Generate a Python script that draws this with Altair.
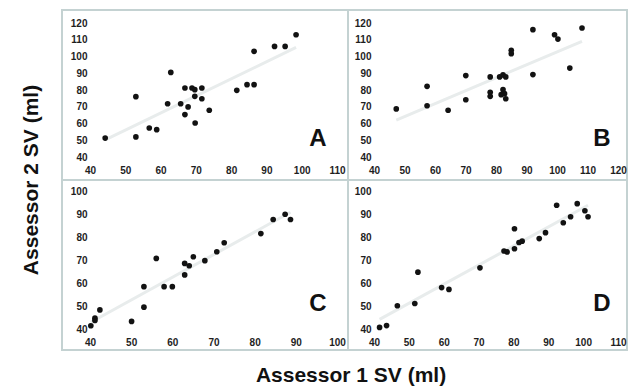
import altair as alt
import pandas as pd

# Panel A
a_x = [44.3, 53, 53, 56.8, 58.9, 62, 62.9, 65.7, 66.9, 66.9, 67.8, 68.9, 69.7, 69.7, 69.8, 71.7, 71.7, 73.8, 81.6, 84.5, 86.5, 86.5, 92.3, 95.3, 98.4]
a_y = [51.3, 76, 52, 57.3, 56.3, 71.8, 90.5, 71.8, 65.3, 81.2, 69.9, 81.2, 80.2, 76.2, 60.3, 81.2, 74.8, 67.9, 79.8, 83.2, 83.2, 103.1, 106, 106, 113]
# Panel B
b_x = [47.3, 57.4, 57.4, 64.3, 70.1, 70.1, 78.1, 78.1, 78.1, 81.2, 82.3, 83.2, 82.3, 82.8, 83.2, 81.7, 85, 85, 92.1, 92.1, 99.2, 100.3, 104.2, 108.2]
b_y = [68.7, 82.2, 70.6, 67.9, 88.6, 74.2, 87.8, 78.6, 76.2, 87.8, 89, 87.8, 80.2, 77.8, 74.8, 77.2, 103.7, 101.7, 116, 89.2, 113, 110.4, 93.1, 117]
# Panel C
c_x = [40.2, 41.2, 41.2, 42.4, 50.1, 53.1, 53.1, 56.1, 58, 60, 63, 63, 64.1, 65.1, 67.9, 70.8, 72.6, 81.5, 84.5, 87.4, 88.7]
c_y = [41.4, 43.7, 44.7, 48.3, 43.3, 49.5, 58.4, 70.7, 58.4, 58.4, 63.5, 68.5, 67.5, 71.4, 69.7, 73.6, 77.5, 81.5, 87.6, 89.9, 87.6]
# Panel D
d_x = [41.6, 43.6, 46.7, 51.7, 52.6, 59.4, 61.5, 70.4, 77.3, 78.2, 80.3, 80.3, 81.6, 82.5, 87.4, 89.2, 92.4, 94.3, 96.4, 98.3, 100.5, 101.4]
d_y = [40.7, 41.5, 50.1, 51.1, 64.7, 58, 57.2, 66.6, 73.9, 73.5, 74.9, 83.6, 77.6, 78.2, 79.3, 81.9, 93.8, 86.2, 88.8, 94.5, 91.4, 88.8]

a_xticks = [40, 50, 60, 70, 80, 90, 100, 110]
a_yticks = [40, 50, 60, 70, 80, 90, 100, 110, 120]
b_xticks = [40, 50, 60, 70, 80, 90, 100, 110, 120]
b_yticks = [40, 50, 60, 70, 80, 90, 100, 110, 120]
c_xticks = [40, 50, 60, 70, 80, 90, 100]
c_yticks = [40, 50, 60, 70, 80, 90, 100]
d_xticks = [40, 50, 60, 70, 80, 90, 100, 110]
d_yticks = [40, 50, 60, 70, 80, 90, 100]

letters = ["A", "B", "C", "D"]
x_title = "Assessor 1 SV (ml)"
y_title = "Assessor 2 SV (ml)"

FONT = "Liberation Sans"
FRAME = "#c4d2d2"
one = pd.DataFrame({"k": [0]})


def panel(xs, ys, xt, yt, w, h, letter, ly, extras=()):
    df = pd.DataFrame({"x": xs, "y": ys})
    xenc = alt.X("x:Q", scale=alt.Scale(domain=[xt[0], xt[-1]], nice=False, zero=False),
                 axis=alt.Axis(values=xt, title=None, labelFlush=False, labelPadding=8,
                               ticks=False, tickSize=0, domain=False, grid=False, labelOverlap=False))
    yenc = alt.Y("y:Q", scale=alt.Scale(domain=[yt[0], yt[-1]], nice=False, zero=False),
                 axis=alt.Axis(values=yt, title=None, labelFlush=False, labelPadding=3,
                               ticks=False, tickSize=0, domain=False, grid=False, labelOverlap=False))
    base = alt.Chart(df)
    line = base.transform_regression("x", "y").mark_line(
        color="#e8ecec", strokeWidth=3).encode(x=xenc, y=yenc)
    pts = base.mark_circle(size=32, color="#121212", opacity=1).encode(x=xenc, y=yenc)
    lab = alt.Chart(one).mark_text(text=letter, font=FONT, fontSize=24, fontWeight="bold",
                                   color="#111111", align="center", baseline="alphabetic").encode(
        x=alt.value(228), y=alt.value(ly))
    layers = list(extras) + [line, pts, lab]
    return alt.layer(*layers).properties(width=w, height=h)


# decorations placed relative to panel A / C plot origins
canvas = alt.Chart(one).mark_rect(fill="white", fillOpacity=0, strokeOpacity=0).encode(
    x=alt.value(-90), x2=alt.value(540), y=alt.value(-23), y2=alt.value(366))
frame = alt.Chart(one).mark_rect(fill="white", fillOpacity=0, stroke=FRAME, strokeWidth=2).encode(
    x=alt.value(-28), x2=alt.value(537), y=alt.value(-13), y2=alt.value(327))
vline = alt.Chart(one).mark_rule(color=FRAME, strokeWidth=2).encode(
    x=alt.value(258), y=alt.value(-13), y2=alt.value(327))
hline = alt.Chart(one).mark_rule(color=FRAME, strokeWidth=2).encode(
    x=alt.value(-28), x2=alt.value(537), y=alt.value(157))
ytitle = alt.Chart(one).mark_text(text=y_title, font=FONT, fontSize=21, fontWeight="bold",
                                  color="#111111", angle=270, align="center",
                                  baseline="alphabetic").encode(x=alt.value(-52), y=alt.value(157))
xtitle = alt.Chart(one).mark_text(text=x_title, font=FONT, fontSize=21, fontWeight="bold",
                                  color="#111111", align="center",
                                  baseline="alphabetic").encode(x=alt.value(261), y=alt.value(191))

pA = panel(a_x, a_y, a_xticks, a_yticks, 247, 134, letters[0], 122.5,
           extras=(canvas, frame, vline, hline, ytitle))
pB = panel(b_x, b_y, b_xticks, b_yticks, 244, 134, letters[1], 122.5)
pC = panel(c_x, c_y, c_xticks, c_yticks, 247, 138, letters[2], 119.5, extras=(xtitle,))
pD = panel(d_x, d_y, d_xticks, d_yticks, 244, 138, letters[3], 119.5)

chart = alt.concat(pA, pB, pC, pD, columns=2, spacing={"row": 34, "column": 37},
                   bounds="flush", align="each").properties(
    padding=0, background="white"
).configure_view(stroke=None).configure_axis(
    labelFont=FONT, labelFontSize=10, labelFontWeight="bold", labelColor="#1e1e1e"
)

chart.save("out.html", embed_options={"renderer": "svg", "actions": False})
